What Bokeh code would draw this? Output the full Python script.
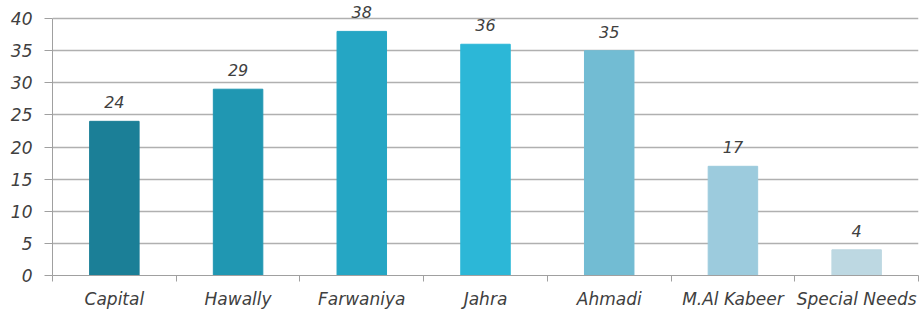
from bokeh.plotting import figure
from bokeh.models import ColumnDataSource, LabelSet, FixedTicker, Range1d
from bokeh.core.properties import value
from bokeh.embed import file_html
from bokeh.resources import INLINE

categories = ["Capital", "Hawally", "Farwaniya", "Jahra", "Ahmadi", "M.Al Kabeer", "Special Needs"]
values = [24, 29, 38, 36, 35, 17, 4]
colors = ["#1b7f97", "#2097b2", "#25a6c4", "#2cb7d7", "#72bcd3", "#9ccbdd", "#bdd8e2"]
y_ticks = [0, 5, 10, 15, 20, 25, 30, 35, 40]

FONT = "DejaVu Sans"
TXT = "#404040"

xs = [i + 0.5 for i in range(len(categories))]
src = ColumnDataSource(dict(x=xs, top=values, color=colors, label=[str(v) for v in values]))

p = figure(width=921, height=311, output_backend="svg", toolbar_location=None,
           x_range=Range1d(0, len(categories)), y_range=Range1d(0, 42.5),
           min_border_left=52, min_border_top=2, min_border_right=3, min_border_bottom=0)
p.outline_line_color = None
p.background_fill_color = "white"
p.border_fill_color = "white"

p.vbar(x="x", top="top", width=0.4, color="color", source=src)

labels = LabelSet(x="x", y="top", text="label", source=src, y_offset=13,
                  text_align="center", text_baseline="bottom",
                  text_font=value(FONT), text_font_style="italic",
                  text_font_size="16px", text_color=TXT)
p.add_layout(labels)

p.xaxis.ticker = FixedTicker(ticks=xs, minor_ticks=list(range(len(categories) + 1)))
p.xaxis.major_label_overrides = {x: c for x, c in zip(xs, categories)}
p.xaxis.major_tick_line_color = None
p.xaxis.minor_tick_line_color = "#a0a0a0"
p.xaxis.minor_tick_out = 6
p.xaxis.minor_tick_in = 0
p.xaxis.axis_line_color = "#a0a0a0"
p.xaxis.major_label_text_font = FONT
p.xaxis.major_label_text_font_style = "italic"
p.xaxis.major_label_text_font_size = "17px"
p.xaxis.major_label_text_color = TXT
p.xaxis.major_label_standoff = 7

p.yaxis.ticker = FixedTicker(ticks=y_ticks)
p.yaxis.bounds = (min(y_ticks), max(y_ticks))
p.yaxis.major_tick_line_color = "#a0a0a0"
p.yaxis.major_tick_out = 8
p.yaxis.major_tick_in = 0
p.yaxis.minor_tick_line_color = None
p.yaxis.axis_line_color = "#a0a0a0"
p.yaxis.major_label_text_font = FONT
p.yaxis.major_label_text_font_style = "italic"
p.yaxis.major_label_text_font_size = "17px"
p.yaxis.major_label_text_color = TXT
p.yaxis.major_label_standoff = 12

p.xgrid.grid_line_color = None
p.ygrid.grid_line_color = "#b0b0b0"
p.ygrid.grid_line_width = 1.5

open("out.html", "w").write(file_html(p, INLINE))
